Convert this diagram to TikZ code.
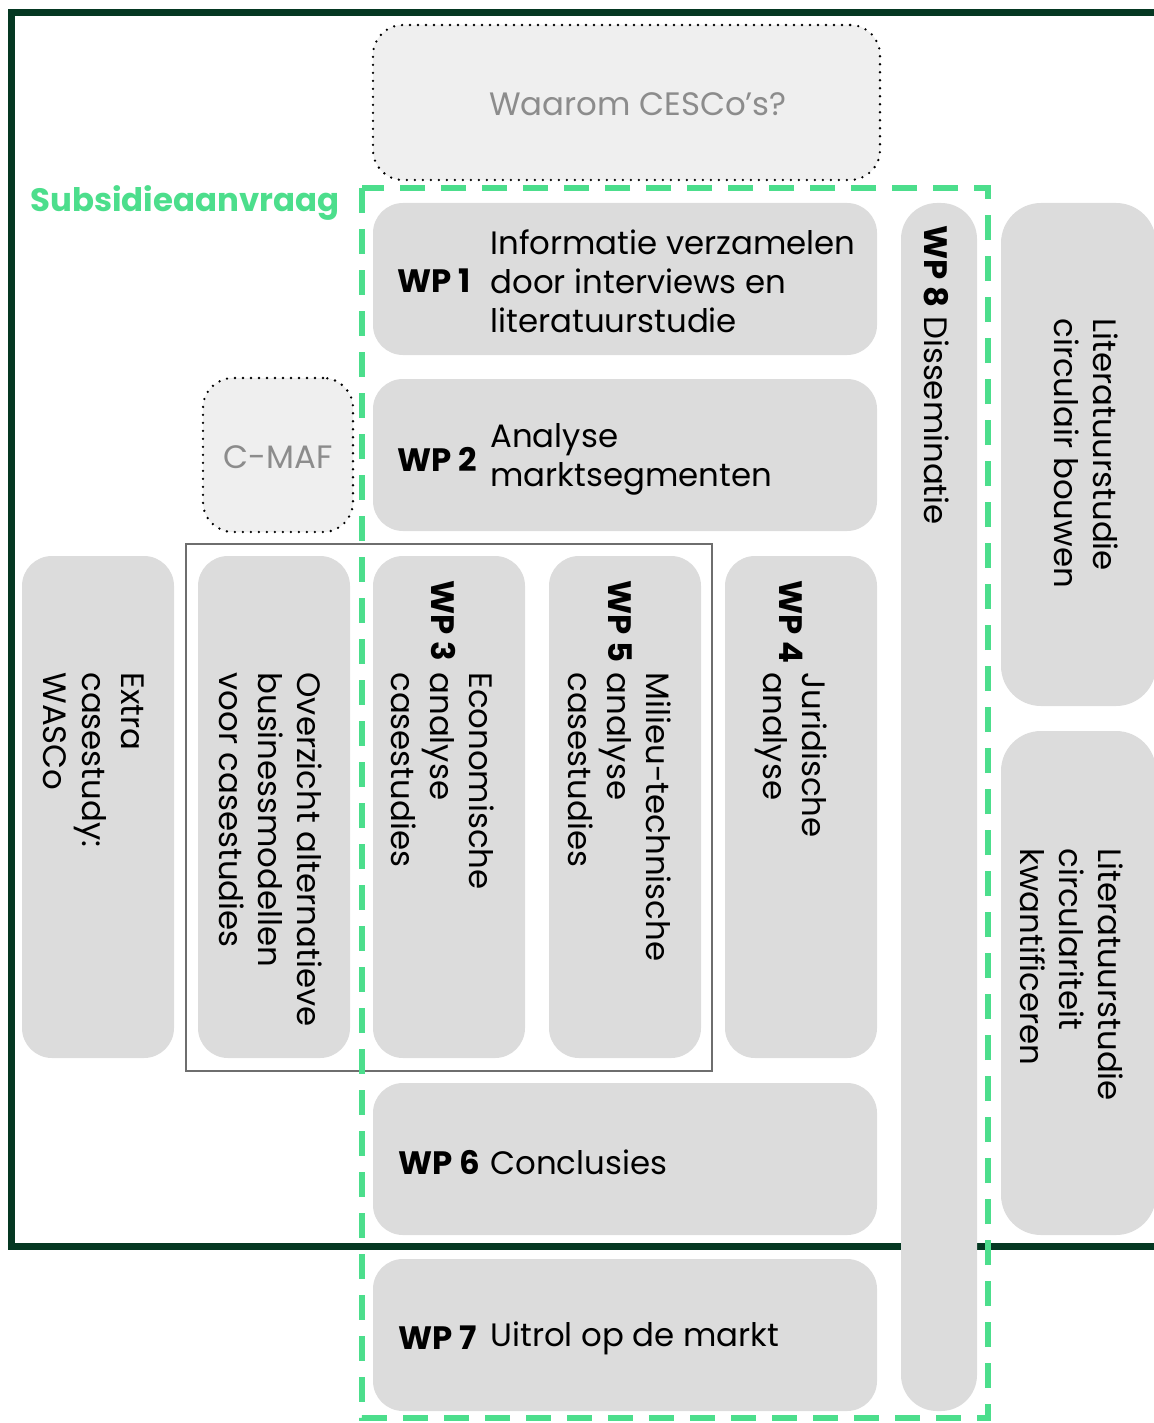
\documentclass[tikz,border=0pt]{standalone}
\usepackage{fontspec}
\setmainfont{Poppins}
\usetikzlibrary{fit}
\definecolor{framegreen}{RGB}{5,56,34}
\definecolor{sgreen}{RGB}{76,222,140}
\definecolor{boxgray}{RGB}{220,220,220}
\definecolor{dotfill}{RGB}{239,239,239}
\definecolor{ghost}{RGB}{140,140,140}
\definecolor{outlinegray}{RGB}{110,110,110}
\begin{document}
\begin{tikzpicture}[x=0.5pt,y=-0.5pt,
  box/.style={fill=boxgray, rounded corners=15pt, inner sep=0pt, draw=none},
  dotbox/.style={fill=dotfill, draw=black, line width=1.3pt, line cap=round, dash pattern=on 0pt off 4pt, rounded corners=15pt, inner sep=0pt},
  txt/.style={font=\fontsize{16.2}{19.5}\selectfont, align=left, inner sep=0pt, anchor=west},
  lbl/.style={font=\fontsize{16.2}{19.5}\selectfont\bfseries, inner sep=0pt, anchor=west},
  ghosttxt/.style={font=\fontsize{16.2}{19.5}\selectfont, text=ghost, inner sep=0pt},
  vt/.style={rotate=-90}
]
\useasboundingbox (0,0) rectangle (1154,1423);
\begin{scope}
\clip (0,0) rectangle (1154,1423);
% dark frame
\draw[framegreen, line width=3.5pt] (1180,13) -- (11,13) -- (11,1246) -- (1180,1246);

% dotted boxes
\node[dotbox, fit={(373,25) (880,180)}] (why) {};
\node[ghosttxt] (whyt) at (638,104) {Waarom CESCo’s?};
\node[dotbox, fit={(203,378) (353,532)}] (cmaf) {};
\node[ghosttxt] (cmaft) at (278,457) {C-MAF};

% grey outline group
\draw[outlinegray, line width=1pt] (186,544) rectangle (712,1071);

% horizontal boxes
\node[box, fit={(373,203) (877,355)}] (wp1) {};
\node[lbl] (wp1l) at (397,281) {WP 1};
\node[txt] (wp1t) at (490,281) {Informatie verzamelen\\door interviews en\\literatuurstudie};

\node[box, fit={(373,379) (877,531)}] (wp2) {};
\node[lbl] (wp2l) at (397,459) {WP 2};
\node[txt] (wp2t) at (490,459) {Analyse\\marktsegmenten};

\node[box, fit={(373,1083) (877,1235)}] (wp6) {};
\node[lbl] (wp6l) at (398,1162) {WP 6};
\node[txt] (wp6t) at (490,1162) {Conclusies};

\node[box, fit={(373,1259) (877,1411)}] (wp7) {};
\node[lbl] (wp7l) at (398,1338) {WP 7};
\node[txt] (wp7t) at (490,1338) {Uitrol op de markt};

% vertical boxes
\node[box, fit={(22,556) (174,1058)}] (extra) {};
\node[txt, vt] (extrat) at (94,672) {Extra\\casestudy:\\WASCo};

\node[box, fit={(198,556) (350,1058)}] (bm) {};
\node[txt, vt] (bmt) at (271,672) {Overzicht alternatieve\\businessmodellen\\voor casestudies};

\node[box, fit={(373,556) (525,1058)}] (wp3) {};
\node[lbl, vt] (wp3l) at (443,580) {WP 3};
\node[txt, vt] (wp3t) at (443,672) {Economische\\analyse\\casestudies};

\node[box, fit={(549,556) (701,1058)}] (wp5) {};
\node[lbl, vt] (wp5l) at (620,580) {WP 5};
\node[txt, vt] (wp5t) at (620,672) {Milieu-technische\\analyse\\casestudies};

\node[box, fit={(725,556) (877,1058)}] (wp4) {};
\node[lbl, vt] (wp4l) at (791,580) {WP 4};
\node[txt, vt] (wp4t) at (791,672) {Juridische\\analyse};

\node[box, rounded corners=18pt, fit={(901,203) (977,1411)}] (wp8) {};
\node[txt, vt] (wp8t) at (937,225) {\textbf{WP 8} Disseminatie};

\node[box, rounded corners=20pt, fit={(1001,203) (1156,706)}] (lit1) {};
\node[txt, vt] (lit1t) at (1086,318) {Literatuurstudie\\circulair bouwen};

\node[box, rounded corners=20pt, fit={(1001,731) (1156,1235)}] (lit2) {};
\node[txt, vt] (lit2t) at (1072,848) {Literatuurstudie\\circulariteit\\kwantificeren};

% subsidy label and dashed region
\node[lbl, text=sgreen] (sub) at (30,203) {Subsidieaanvraag};
\draw[sgreen, line width=3pt, dash pattern=on 12.5pt off 8pt] (362,188) rectangle (988,1418);
\end{scope}
\end{tikzpicture}
\end{document}
